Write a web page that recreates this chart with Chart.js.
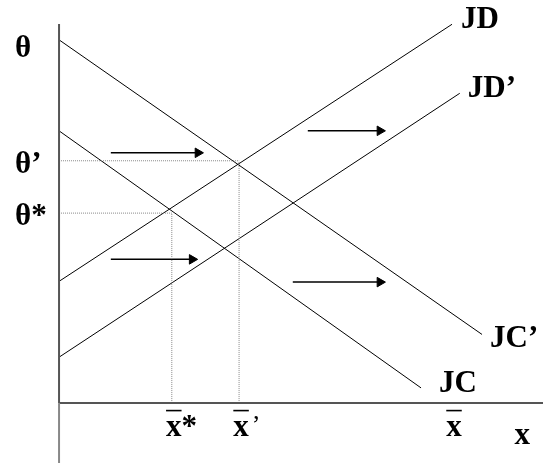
<!DOCTYPE html>
<html>
<head>
<meta charset="utf-8">
<script src="https://cdn.jsdelivr.net/npm/chart.js@4"></script>
<style>
  html, body { margin: 0; padding: 0; background: #fff; }
  #wrap { width: 543px; height: 463px; }
</style>
</head>
<body>
<div id="wrap"><canvas id="chart" width="543" height="463"></canvas></div>
<script>
// curves, as [start, end] in (x, theta)
const jcX = [0, 7.48]
const jcY = [7.18, 0.40]
const jcPrimeX = [0, 8.74]
const jcPrimeY = [9.58, 1.81]
const jdX = [0, 8.12]
const jdY = [3.21, 9.99]
const jdPrimeX = [0, 8.28]
const jdPrimeY = [1.21, 8.17]

// equilibria
const xStar = 2.33
const xPrime = 3.72
const thetaStar = 5.01
const thetaPrime = 6.39
const xBar = 8.12

// shift arrows
const arrowY = [6.60, 7.18, 3.79, 3.19]
const arrowFrom = [1.07, 5.14, 1.07, 4.83]
const arrowTo = [2.87, 6.63, 2.75, 6.63]

// axis extents
const xMin = -1.22
const xMax = 10
const yMin = -1.58
const yMax = 10.63
const yTop = 10

// tick labels
const thetaTicks = [9.45, thetaPrime, thetaStar]
const thetaLabels = ['θ', 'θ’', 'θ*']
const xTicks = [xStar, xPrime, xBar]
const xSuffix = ['*', '’', '']
const xTitleAt = 9.57

const curves = [
  {name: 'JC', xs: jcX, ys: jcY, dx: 18, dy: 4},
  {name: 'JC’', xs: jcPrimeX, ys: jcPrimeY, dx: 8, dy: 13},
  {name: 'JD', xs: jdX, ys: jdY, dx: 9, dy: 4},
  {name: 'JD’', xs: jdPrimeX, ys: jdPrimeY, dx: 8, dy: 4},
]

function seg(xs, ys, color, width, dash) {
  return {
    data: xs.map((v, i) => ({x: v, y: ys[i]})),
    borderColor: color,
    borderWidth: width,
    borderDash: dash || [],
    pointRadius: 0,
    fill: false,
    tension: 0,
    clip: false,
  }
}

let datasets = []
// axes
datasets.push(seg([0, 0], [yMin, 0], '#888', 2))
datasets.push(seg([0, 0], [0, yTop], '#555', 2))
datasets.push(seg([0, xMax], [0, 0], '#555', 2))
// dotted guides
datasets.push(seg([0, xPrime], [thetaPrime, thetaPrime], '#888', 1, [1, 1]))
datasets.push(seg([0, xStar], [thetaStar, thetaStar], '#888', 1, [1, 1]))
datasets.push(seg([xStar, xStar], [0, thetaStar], '#888', 1, [1, 1]))
datasets.push(seg([xPrime, xPrime], [0, thetaPrime], '#888', 1, [1, 1]))
// curves
for (let c of curves) {
  datasets.push(seg(c.xs, c.ys, '#000', 1))
}
// arrows
arrowY.forEach((v, i) => {
  let d = seg([arrowFrom[i], arrowTo[i]], [v, v], '#000', 1.5)
  d.pointRadius = [0, 5.5]
  d.pointStyle = 'triangle'
  d.rotation = 90
  d.pointBackgroundColor = '#000'
  d.pointBorderColor = '#000'
  d.pointBorderWidth = 1
  datasets.push(d)
})

const labelPlugin = {
  id: 'labels',
  afterDatasetsDraw(chart) {
    const {ctx} = chart
    const x = chart.scales.x
    const y = chart.scales.y
    const font = '"Liberation Serif", "Times New Roman", serif'
    const big = 'bold 31px ' + font
    ctx.save()
    ctx.fillStyle = '#000'
    ctx.strokeStyle = '#000'
    ctx.textBaseline = 'alphabetic'
    ctx.textAlign = 'left'
    ctx.font = big

    thetaLabels.forEach((t, i) => {
      ctx.fillText(t, 15, y.getPixelForValue(thetaTicks[i]) + 12)
    })

    for (let c of curves) {
      ctx.fillText(c.name, x.getPixelForValue(c.xs[1]) + c.dx, y.getPixelForValue(c.ys[1]) + c.dy)
    }

    // x bar labels under the axis
    let base = y.getPixelForValue(0)
    xTicks.forEach((v, i) => {
      let px = x.getPixelForValue(v)
      ctx.font = big
      let w = ctx.measureText('x').width
      let left = px - w / 2 + 2
      ctx.fillText('x', left, base + 33)
      ctx.lineWidth = 1.6
      ctx.beginPath()
      ctx.moveTo(left, base + 7.5)
      ctx.lineTo(left + w, base + 7.5)
      ctx.stroke()
      if (xSuffix[i] === '*') {
        ctx.fillText('*', left + w, base + 33)
      } else if (xSuffix[i]) {
        ctx.font = '26px ' + font
        ctx.fillText(xSuffix[i], left + w + 3, base + 30)
      }
    })

    ctx.font = big
    ctx.textAlign = 'center'
    ctx.fillText('x', x.getPixelForValue(xTitleAt), base + 41)
    ctx.restore()
  },
}

new Chart(document.getElementById('chart'), {
  type: 'line',
  data: {datasets: datasets},
  options: {
    responsive: false,
    devicePixelRatio: 1,
    animation: false,
    events: [],
    layout: {padding: 0, autoPadding: false},
    plugins: {
      legend: {display: false},
      tooltip: {enabled: false},
    },
    scales: {
      x: {type: 'linear', min: xMin, max: xMax, display: false},
      y: {type: 'linear', min: yMin, max: yMax, display: false},
    },
  },
  plugins: [labelPlugin],
})
</script>
</body>
</html>
